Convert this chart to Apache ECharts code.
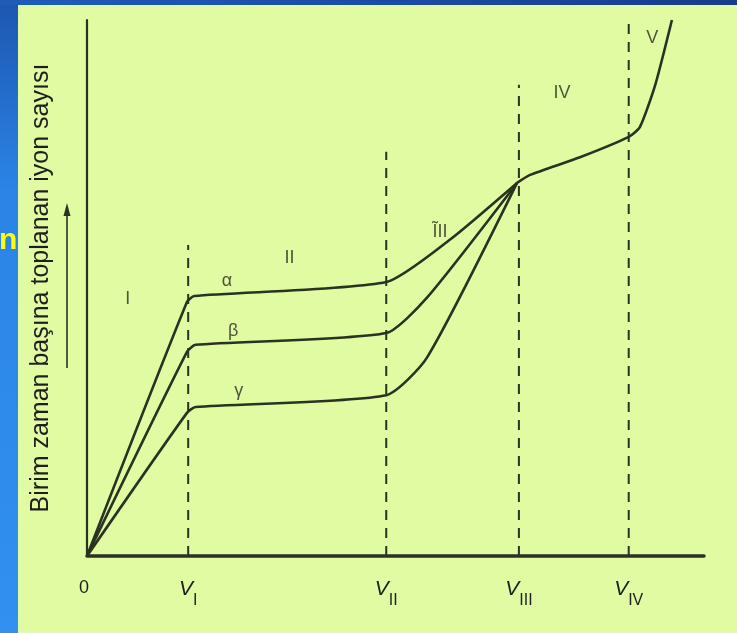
<!DOCTYPE html>
<html>
<head>
<meta charset="utf-8">
<script src="https://cdn.jsdelivr.net/npm/echarts@6/dist/echarts.min.js"></script>
<style>
html, body {
    margin: 0;
    padding: 0;
    overflow: hidden;
}
#chart {
    width: 737px;
    height: 633px;
}
</style>
</head>
<body>
<div id="chart"></div>
<script>
// voltage positions of the region borders (arbitrary units, 0..100)
const vNames = ["I", "II", "III", "IV"];
const vPos = [16.4, 48.5, 70.0, 87.8];
const vTop = [58.0, 75.4, 87.9, 100];

// collected ions per unit time, three particle kinds
const alphaV = [0, 16.2, 17.4, 48.5, 58.8, 69.7];
const alphaN = [0, 47.4, 48.5, 51.1, 59.0, 69.6];
const betaV = [0, 16.2, 17.6, 48.5, 55.1, 69.7];
const betaN = [0, 38.1, 39.4, 41.6, 48.2, 69.6];
const gammaV = [0, 16.2, 17.6, 48.5, 55.1, 69.7];
const gammaN = [0, 26.7, 27.8, 30.0, 37.0, 69.6];

// common part after V_III
const tailV = [69.7, 71.8, 79.9, 87.8, 89.6, 92.1, 94.8];
const tailN = [69.6, 71.1, 74.4, 78.2, 80.0, 87.9, 100];

const ink = "#2a3222";
const font = "Liberation Sans";

function pairs(xs, ys) {
    return xs.map((x, i) => [x, ys[i]]);
}

function curve(name, xs, ys) {
    return {
        name: name,
        type: "line",
        data: pairs(xs, ys),
        smooth: 0.2,
        symbol: "none",
        lineStyle: { color: ink, width: 2.6 },
        z: 5,
    };
}

let chart = echarts.init(document.getElementById("chart"));

let dashed = vPos.map((v, i) => ({
    type: "line",
    data: [[v, 0], [v, vTop[i]]],
    symbol: "none",
    lineStyle: { color: ink, width: 2, type: [10, 8] },
    z: 3,
}));

let notes = [
    { t: "I", c: [6.6, 48.0] },
    { t: "II", c: [32.8, 55.5] },
    { t: "α", c: [22.7, 51.3] },
    { t: "β", c: [23.7, 42.0] },
    { t: "γ", c: [24.6, 30.8] },
    { t: "ĨII", c: [57.2, 60.5] },
    { t: "IV", c: [77.0, 86.4] },
    { t: "V", c: [91.6, 96.6] },
];

chart.setOption({
    animation: false,
    backgroundColor: "#e0fba2",
    graphic: [
        {
            type: "rect",
            shape: { x: 0, y: 0, width: 18, height: 633 },
            style: {
                fill: new echarts.graphic.LinearGradient(0, 0, 0, 1, [
                    { offset: 0, color: "#1d56b0" },
                    { offset: 0.3, color: "#2b84e6" },
                    { offset: 1, color: "#3190f0" },
                ]),
            },
            z: -1,
        },
        {
            type: "rect",
            shape: { x: 0, y: 0, width: 737, height: 5 },
            style: {
                fill: new echarts.graphic.LinearGradient(0, 0, 1, 0, [
                    { offset: 0, color: "#1f5cb8" },
                    { offset: 1, color: "#173c8c" },
                ]),
            },
            z: -1,
        },
        {
            type: "text",
            left: -1,
            top: 226,
            style: {
                text: "n",
                fill: "#ffff00",
                font: "bold 30px 'Liberation Sans', Arial, sans-serif",
            },
        },
        {
            type: "line",
            shape: { x1: 67, y1: 368, x2: 67, y2: 212 },
            style: { stroke: ink, lineWidth: 1.6 },
        },
        {
            type: "polygon",
            shape: { points: [[67, 203], [63.5, 216], [70.5, 216]] },
            style: { fill: ink },
        },
    ],
    grid: {
        left: 87,
        right: 33,
        top: 20,
        bottom: 77,
    },
    xAxis: {
        type: "value",
        min: 0,
        max: 100,
        splitLine: { show: false },
        axisTick: { show: false },
        axisLine: { lineStyle: { color: ink, width: 3.5 } },
        axisLabel: {
            customValues: [0].concat(vPos),
            margin: 23,
            color: "#1e1e1e",
            fontFamily: font,
            formatter: (val) => {
                let i = vPos.indexOf(val);
                if (i < 0) return "{z|0}";
                return "{v|V}{s|" + vNames[i] + "}";
            },
            rich: {
                z: { fontSize: 18, lineHeight: 20, verticalAlign: "top", padding: [0, 6, 0, 0], fontFamily: font },
                v: { fontSize: 21, fontStyle: "italic", lineHeight: 22, verticalAlign: "top", fontFamily: font },
                s: { fontSize: 16, lineHeight: 30, verticalAlign: "bottom", fontFamily: font },
            },
        },
    },
    yAxis: {
        type: "value",
        min: 0,
        max: 100,
        name: "Birim zaman başına toplanan iyon sayısı",
        nameLocation: "middle",
        nameRotate: 90,
        nameGap: 33,
        nameTextStyle: {
            color: "#1e1e1e",
            fontSize: 25,
            fontFamily: font,
        },
        splitLine: { show: false },
        axisTick: { show: false },
        axisLabel: { show: false },
        axisLine: { lineStyle: { color: ink, width: 2.2 } },
    },
    series: [
        curve("α", alphaV, alphaN),
        curve("β", betaV, betaN),
        curve("γ", gammaV, gammaN),
        curve("tail", tailV, tailN),
        ...dashed,
        {
            type: "scatter",
            symbolSize: 0,
            data: notes.map((n) => ({ value: n.c, name: n.t })),
            label: {
                show: true,
                position: "inside",
                formatter: (p) => p.name,
                color: "#2a2a22",
                fontSize: 18,
                fontFamily: font,
            },
            z: 6,
        },
    ],
});
</script>
</body>
</html>
